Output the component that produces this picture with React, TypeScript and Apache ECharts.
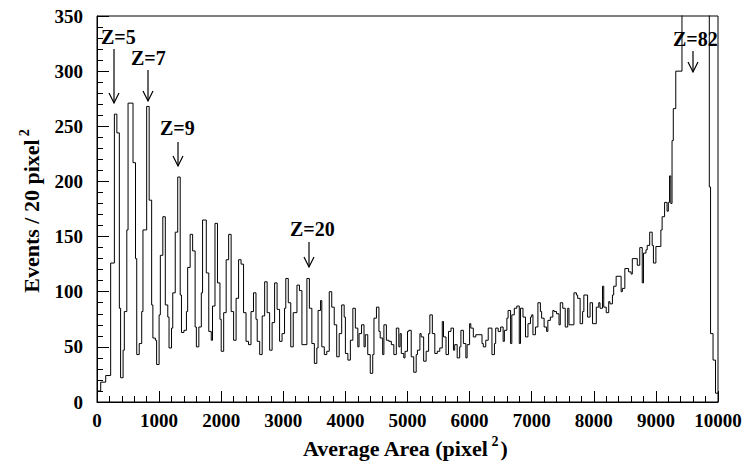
import React, { useEffect, useRef } from "react";
import * as echarts from "echarts";

// Histogram: lower bin edge (pixel^2) and counts per 20 pixel^2 bin (runs of equal bins merged)
const binEdges = [
  0, 60, 140, 220, 280, 320, 360, 380, 420, 440, 480, 500, 580, 620, 640, 680, 720, 740,
  800, 840, 880, 900, 940, 960, 1000, 1020, 1060, 1100, 1140, 1160, 1200, 1220, 1260, 1300,
  1340, 1360, 1400, 1440, 1460, 1500, 1540, 1580, 1600, 1640, 1680, 1700, 1760, 1800, 1840,
  1860, 1900, 1940, 1980, 2000, 2040, 2080, 2120, 2160, 2200, 2240, 2280, 2320, 2360, 2400,
  2440, 2480, 2520, 2560, 2580, 2620, 2660, 2700, 2740, 2780, 2820, 2860, 2900, 2940, 2980,
  3020, 3040, 3080, 3120, 3160, 3220, 3260, 3300, 3380, 3420, 3460, 3500, 3540, 3560, 3600,
  3620, 3660, 3700, 3740, 3780, 3820, 3860, 3900, 3940, 3980, 4000, 4040, 4080, 4120, 4160,
  4200, 4220, 4260, 4300, 4320, 4360, 4400, 4440, 4460, 4500, 4540, 4560, 4600, 4620, 4660,
  4700, 4740, 4780, 4820, 4860, 4880, 4900, 4940, 4960, 5000, 5020, 5060, 5100, 5140, 5160,
  5200, 5220, 5260, 5300, 5340, 5360, 5400, 5440, 5480, 5520, 5560, 5580, 5620, 5660, 5700,
  5740, 5760, 5800, 5840, 5860, 5900, 5940, 5960, 6000, 6020, 6060, 6100, 6200, 6220, 6260,
  6300, 6360, 6400, 6420, 6460, 6500, 6540, 6560, 6600, 6620, 6660, 6680, 6720, 6760, 6800,
  6820, 6860, 6900, 6940, 6980, 7000, 7020, 7060, 7100, 7140, 7160, 7200, 7240, 7260, 7300,
  7340, 7360, 7400, 7440, 7460, 7500, 7540, 7580, 7600, 7680, 7720, 7740, 7780, 7820, 7840,
  7900, 7940, 7980, 8040, 8080, 8100, 8140, 8160, 8200, 8240, 8260, 8300, 8320, 8360, 8440,
  8460, 8500, 8560, 8600, 8620, 8700, 8740, 8780, 8800, 8840, 8860, 8900, 8940, 8960, 9000,
  9080, 9100, 9140, 9180, 9200, 9220, 9240, 9260, 9280, 9320, 9420, 9480, 9540, 9600, 9660,
  9720, 9780, 9840, 9860, 9880, 9920, 9960,
];

const counts = [
  10, 18, 24, 126, 261, 244, 85, 22, 47, 82, 156, 271, 217, 130, 43, 53, 82, 156,
  268, 183, 88, 58, 56, 34, 79, 133, 168, 88, 77, 49, 67, 99, 154, 204,
  97, 63, 65, 82, 122, 152, 137, 68, 50, 68, 99, 165, 117, 64, 56,
  87, 162, 108, 75, 46, 81, 129, 152, 82, 56, 94, 129, 125, 81, 55,
  52, 82, 99, 75, 55, 43, 78, 109, 81, 47, 72, 108, 84, 55, 62,
  85, 112, 90, 50, 81, 106, 101, 52, 112, 85, 53, 35, 49, 83, 92,
  50, 43, 46, 100, 86, 70, 41, 62, 88, 77, 44, 38, 56, 85, 67,
  50, 62, 70, 50, 61, 43, 26, 43, 76, 86, 64, 58, 43, 70, 56,
  55, 52, 43, 67, 50, 62, 44, 40, 46, 64, 65, 41, 27, 43, 47,
  62, 59, 37, 46, 62, 79, 62, 44, 46, 49, 73, 59, 43, 64, 67,
  47, 52, 40, 50, 65, 53, 40, 52, 71, 67, 59, 61, 53, 50, 56,
  67, 43, 53, 67, 64, 68, 55, 65, 76, 83, 53, 79, 85, 87, 53,
  85, 77, 59, 71, 77, 79, 61, 68, 90, 82, 76, 68, 64, 74, 77,
  83, 82, 80, 70, 90, 85, 68, 85, 70, 99, 97, 94, 71, 82, 97,
  77, 90, 71, 86, 90, 85, 105, 86, 81, 91, 89, 97, 105, 114, 100,
  103, 121, 118, 116, 130, 124, 140, 108, 135, 138, 142, 154, 142, 126, 141,
  156, 168, 181, 173, 181, 205, 180, 237, 266, 300, 372, 398, 425, 448, 440,
  418, 396, 380, 195, 62, 38, 8,
];

const xRange = [0, 10000];
const yRange = [0, 350];
const zLabels = ["Z=5", "Z=7", "Z=9", "Z=20", "Z=82"];

const FONT = "Liberation Serif";

// annotation placement (pixels): text left, text center y, arrow x, arrow top, arrow tip
const annotPos = [
  [101, 37, 114, 49, 103],
  [131, 58, 148, 70, 101],
  [160, 128, 178, 142, 166],
  [290, 229, 309, 242, 267],
  [673, 39, 693, 51, 72],
];

export default function App() {
  const ref = useRef<HTMLDivElement>(null);

  useEffect(() => {
    if (!ref.current) return;
    const chart = echarts.init(ref.current, undefined, { renderer: "svg" });

    const data: [number, number][] = binEdges.map((e, i) => [e, counts[i]]);
    data.push([xRange[1], counts[counts.length - 1]]);

    const richAll = {
      z: { fontFamily: FONT, fontWeight: "bold", fontSize: 20, lineHeight: 22, fill: "#000", color: "#000" },
      t: { fontFamily: FONT, fontWeight: "bold", fontSize: 19, lineHeight: 20, fill: "#000", color: "#000" },
      m: { fontFamily: FONT, fontWeight: "bold", fontSize: 22, lineHeight: 28, fill: "#000" },
      s: { fontFamily: FONT, fontWeight: "bold", fontSize: 14, lineHeight: 16, verticalAlign: "top", padding: [0, 2, 0, 3], fill: "#000" },
    };

    const graphics: any[] = [];
    zLabels.forEach((lab, i) => {
      const [tx, ty, ax, a0, a1] = annotPos[i];
      graphics.push({
        type: "text",
        x: tx,
        y: ty,
        style: {
          text: `{z|${lab}}`,
          rich: richAll,
          fill: "#000",
          textAlign: "left",
          textVerticalAlign: "middle",
        },
      });
      graphics.push({
        type: "line",
        shape: { x1: ax, y1: a0, x2: ax, y2: a1 },
        style: { stroke: "#000", lineWidth: 1.2 },
      });
      graphics.push({
        type: "polyline",
        shape: { points: [[ax - 5, a1 - 10], [ax, a1], [ax + 5, a1 - 10]] },
        style: { stroke: "#000", lineWidth: 1.2, fill: null },
      });
    });

    graphics.push({
      type: "text",
      x: 405,
      y: 448,
      style: {
        text: "{m|Average Area (pixel}{s|2}{m|)}",
        rich: richAll,
        textAlign: "center",
        textVerticalAlign: "middle",
        fill: "#000",
      },
    });
    graphics.push({
      type: "text",
      x: 31,
      y: 210,
      rotation: Math.PI / 2,
      style: {
        text: "{m|Events / 20 pixel}{s|2}",
        rich: richAll,
        textAlign: "center",
        textVerticalAlign: "middle",
        fill: "#000",
      },
    });

    const axisLabel = {
      color: "#000",
      fontFamily: FONT,
      fontWeight: "bold" as const,
      fontSize: 19,
      formatter: (v: number) => `{t|${v}}`,
      rich: { t: richAll.t },
    };

    chart.setOption({
      animation: false,
      backgroundColor: "#fff",
      grid: {
        left: 97,
        right: 27,
        top: 16,
        bottom: 62,
        show: true,
        borderColor: "#000",
        borderWidth: 1,
      },
      xAxis: {
        type: "value",
        min: xRange[0],
        max: xRange[1],
        interval: 1000,
        axisLine: { show: true, onZero: false, lineStyle: { color: "#000", width: 1 } },
        axisTick: { show: true, inside: true, length: 11, lineStyle: { color: "#000", width: 1 } },
        minorTick: { show: true, splitNumber: 5, length: 6, lineStyle: { color: "#000", width: 1 } },
        splitLine: { show: false },
        minorSplitLine: { show: false },
        axisLabel: { ...axisLabel, margin: 8 },
      },
      yAxis: {
        type: "value",
        min: yRange[0],
        max: yRange[1],
        interval: 50,
        axisLine: { show: true, onZero: false, lineStyle: { color: "#000", width: 1 } },
        axisTick: { show: true, inside: true, length: 12, lineStyle: { color: "#000", width: 1 } },
        minorTick: { show: true, splitNumber: 5, length: 6, lineStyle: { color: "#000", width: 1 } },
        splitLine: { show: false },
        minorSplitLine: { show: false },
        axisLabel: { ...axisLabel, margin: 14 },
      },
      series: [
        {
          type: "line",
          step: "end",
          data,
          showSymbol: false,
          symbol: "none",
          clip: true,
          lineStyle: { color: "#000", width: 1 },
          silent: true,
        },
      ],
      graphic: graphics,
    });

    return () => chart.dispose();
  }, []);

  return (
    <div
      ref={ref}
      style={{ position: "fixed", left: 0, top: 0, width: 745, height: 464, background: "#fff" }}
    />
  );
}
